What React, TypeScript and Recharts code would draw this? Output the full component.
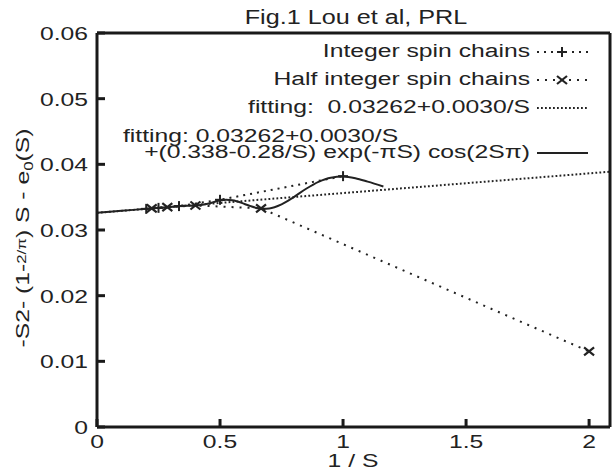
import React from 'react';
import { ComposedChart, Line, XAxis, YAxis } from 'recharts';

// ---- data ----
const xTicks = [0, 0.5, 1, 1.5, 2];
const xTickLabels = ['0', '0.5', '1', '1.5', '2'];
const yTicks = [0, 0.01, 0.02, 0.03, 0.04, 0.05, 0.06];
const yTickLabels = ['0', '0.01', '0.02', '0.03', '0.04', '0.05', '0.06'];
const xDomain = [0, 2.085];
const yDomain = [0, 0.06];

// Integer spin chains (x = 1/S)
const integerX = [0.2, 0.25, 0.3333, 0.5, 1];
const integerY = [0.03322, 0.03337, 0.03364, 0.0346, 0.0382];

// Half integer spin chains
const halfX = [0.2222, 0.2857, 0.4, 0.6667, 2];
const halfY = [0.0333, 0.03348, 0.03373, 0.0333, 0.0115];

// fitting: 0.03262+0.0030/S (straight dotted line)
const fitLineX = [0, 2.085];
const fitLineY = [0.03262, 0.03888];

// fitting with oscillating term (solid curve)
const fitCurveX = [0, 0.1, 0.2, 0.3, 0.35, 0.4, 0.45, 0.5, 0.525, 0.55, 0.6, 0.625, 0.65, 0.675, 0.7, 0.75, 0.8, 0.85, 0.9, 0.95, 1.0, 1.05, 1.1, 1.164];
const fitCurveY = [0.03262, 0.03292, 0.03322, 0.03352, 0.03369, 0.03373, 0.034, 0.03449, 0.03459, 0.03452, 0.03397, 0.03363, 0.03336, 0.03324, 0.03328, 0.0339, 0.03502, 0.03628, 0.03733, 0.03797, 0.03813, 0.03788, 0.03737, 0.03663];

const zip = (xs: number[], ys: number[]) => xs.map((x, i) => ({ x, y: ys[i] }));
const integerData = zip(integerX, integerY);
const halfData = zip(halfX, halfY);
const fitLineData = zip(fitLineX, fitLineY);
const fitCurveData = zip(fitCurveX, fitCurveY);

// ---- layout ----
const W = 613;
const H = 472;
const MARGIN = { top: 32, right: 2, bottom: 0, left: 0 };
const Y_AXIS_W = 97;
const X_AXIS_H = 45;
const TOP_AXIS_H = 1;
const RIGHT_AXIS_W = 1;

// ---- styling ----
const FONT = '"Liberation Sans", Arial, Helvetica, sans-serif';
const SX = 1.3;
const INK = '#222';
const FRAME = '#1a1a1a';
const TICK = 8;

function SText(props: any) {
  const { x, y, anchor = 'start', size = 19, sx = SX, rotate = 0, children } = props;
  return (
    <text
      transform={`translate(${x},${y}) rotate(${rotate}) scale(${sx},1)`}
      textAnchor={anchor}
      fontSize={size}
      fontFamily={FONT}
      fill={INK}
      stroke="none"
    >
      {children}
    </text>
  );
}

const XTick = (p: any) => {
  const i = xTicks.indexOf(p.payload.value);
  return <SText x={p.x} y={p.y + 21} anchor="middle">{xTickLabels[i]}</SText>;
};
const YTick = (p: any) => {
  const i = yTicks.findIndex((t) => Math.abs(t - p.payload.value) < 1e-9);
  return <SText x={p.x - 9} y={p.y + 7} anchor="end">{yTickLabels[i]}</SText>;
};

const Plus = ({ cx, cy }: any) => (
  <g stroke={INK} strokeWidth={2}>
    <line x1={cx - 5} y1={cy} x2={cx + 5} y2={cy} />
    <line x1={cx} y1={cy - 5} x2={cx} y2={cy + 5} />
  </g>
);
const Cross = ({ cx, cy }: any) => (
  <g stroke={INK} strokeWidth={2.2}>
    <line x1={cx - 5} y1={cy - 4} x2={cx + 5} y2={cy + 4} />
    <line x1={cx - 5} y1={cy + 4} x2={cx + 5} y2={cy - 4} />
  </g>
);
const renderPlus = (p: any) => <Plus key={`p${p.index}`} cx={p.cx} cy={p.cy} />;
const renderCross = (p: any) => <Cross key={`c${p.index}`} cx={p.cx} cy={p.cy} />;

const INT_DASH = '2 5';
const HALF_DASH = '2 6';
const FIT_DASH = '1.8 2.2';

export default function App() {
  return (
    <div style={{ position: 'absolute', left: 0, top: 0, width: W, height: H, background: '#fff' }}>
      <ComposedChart width={W} height={H} margin={MARGIN}>
        <XAxis xAxisId={0} type="number" dataKey="x" domain={xDomain} ticks={xTicks} height={X_AXIS_H}
          tickSize={-TICK} tickMargin={TICK} tick={XTick} stroke={FRAME} strokeWidth={3} />
        <XAxis xAxisId="top" orientation="top" type="number" dataKey="x" domain={xDomain} ticks={xTicks} height={TOP_AXIS_H}
          tickSize={-TICK} tick={false} stroke={FRAME} strokeWidth={3} />
        <YAxis yAxisId={0} type="number" domain={yDomain} ticks={yTicks} width={Y_AXIS_W}
          tickSize={-TICK} tickMargin={TICK} tick={YTick} stroke={FRAME} strokeWidth={3} />
        <YAxis yAxisId="right" orientation="right" type="number" domain={yDomain} ticks={yTicks} width={RIGHT_AXIS_W}
          tickSize={-TICK} tick={false} stroke={FRAME} strokeWidth={3} />

        <Line data={fitLineData} dataKey="y" stroke={INK} strokeWidth={2} strokeDasharray={FIT_DASH} dot={false} isAnimationActive={false} />
        <Line data={fitCurveData} dataKey="y" type="monotone" stroke={INK} strokeWidth={2} dot={false} isAnimationActive={false} />
        <Line data={integerData} dataKey="y" stroke={INK} strokeWidth={2} strokeDasharray={INT_DASH} dot={renderPlus} isAnimationActive={false} />
        <Line data={halfData} dataKey="y" stroke={INK} strokeWidth={2} strokeDasharray={HALF_DASH} dot={renderCross} isAnimationActive={false} />
      </ComposedChart>

      <svg width={W} height={H} style={{ position: 'absolute', left: 0, top: 0, pointerEvents: 'none' }}>
        {/* title */}
        <SText x={356} y={24} anchor="middle" size={21} sx={1.2}>Fig.1 Lou et al, PRL</SText>

        {/* axis labels */}
        <SText x={353} y={467} anchor="middle">1 / S</SText>
        <SText x={29} y={238} anchor="middle" rotate={-90}>
          <tspan>-S2- (1-</tspan>
          <tspan fontSize={13} dy={-3}>2/π</tspan>
          <tspan dy={3}>) S - e</tspan>
          <tspan fontSize={13} dy={4}>0</tspan>
          <tspan dy={-4}>(S)</tspan>
        </SText>

        {/* legend */}
        <SText x={530} y={57} anchor="end">Integer spin chains</SText>
        <line x1={537} y1={52} x2={588} y2={52} stroke={INK} strokeWidth={2} strokeDasharray={INT_DASH} />
        <Plus cx={562} cy={52} />

        <SText x={530} y={85} anchor="end">Half integer spin chains</SText>
        <line x1={537} y1={80} x2={588} y2={80} stroke={INK} strokeWidth={2} strokeDasharray={HALF_DASH} />
        <Cross cx={562} cy={80} />

        <SText x={530} y={113} anchor="end">{'fitting:\u00a0 0.03262+0.0030/S'}</SText>
        <line x1={537} y1={108} x2={588} y2={108} stroke={INK} strokeWidth={2} strokeDasharray={FIT_DASH} />

        <SText x={123} y={142} anchor="start">fitting: 0.03262+0.0030/S</SText>
        <SText x={530} y={158} anchor="end">+(0.338-0.28/S) exp(-πS) cos(2Sπ)</SText>
        <line x1={537} y1={153} x2={588} y2={153} stroke={INK} strokeWidth={2} />
      </svg>
    </div>
  );
}
